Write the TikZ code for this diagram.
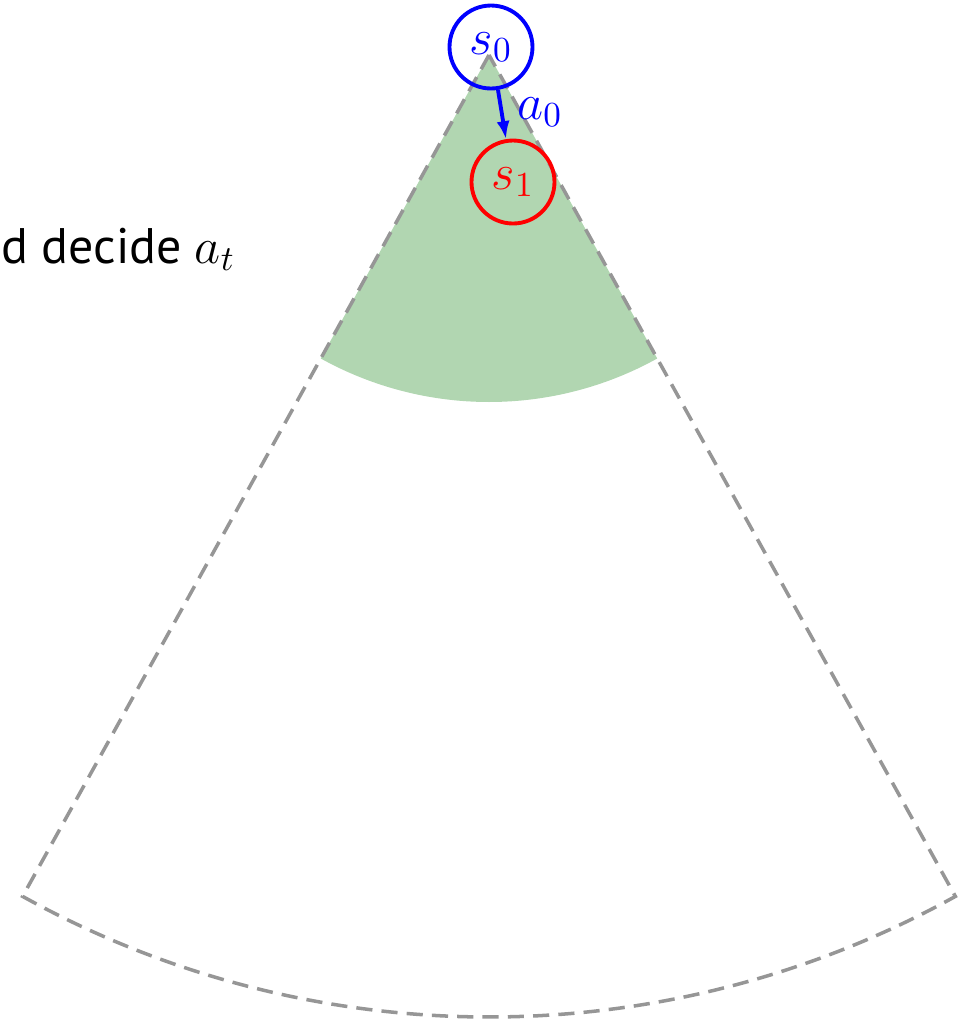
\documentclass[tikz,border=0pt]{standalone}
\usepackage{amsmath,amssymb}
\usepackage{fontspec}
\setmainfont{PT Sans}
\usepackage{tikz}
\usetikzlibrary{arrows.meta,positioning,calc}
\definecolor{reachgreen}{RGB}{177,214,177}
\definecolor{dashgray}{RGB}{150,150,150}
\tikzset{
    state/.style={circle,draw,line width=1.1pt,minimum size=8.3mm,inner sep=0pt,font=\Large},
    sector/.style={dashgray,line width=1pt,dash pattern=on 4.6pt off 2.6pt},
    arrow/.style={-{Latex[length=1.8mm,width=1.3mm]},line width=1.1pt}
}
\begin{document}
\begin{tikzpicture}
    \useasboundingbox (0,0) rectangle (9.59,-10.21);
    \coordinate (apex) at (4.89,-0.55);
    % reachable set after one step, then the full cone
    \fill[reachgreen] (apex) -- ++(-119:3.47) arc[start angle=-119,end angle=-61,radius=3.47] -- cycle;
    \draw[sector] (apex) -- ++(-119:9.62) coordinate (lc) arc[start angle=-119,end angle=-61,radius=9.62] coordinate (rc) -- cycle;
    \node[state,blue] (s0) at (4.91,-0.47) {$s_0$};
    \node[state,red] (s1) at (5.13,-1.82) {$s_1$};
    \draw[arrow,blue] (s0) -- (s1);
    \node[blue,font=\Large] (a0) at (5.40,-1.12) {$a_0$};
    \node[anchor=base west,inner sep=0pt,font=\fontsize{14.2}{17}\selectfont] (caption) at (0.01,-2.63) {d decide $a_t$};
\end{tikzpicture}
\end{document}
